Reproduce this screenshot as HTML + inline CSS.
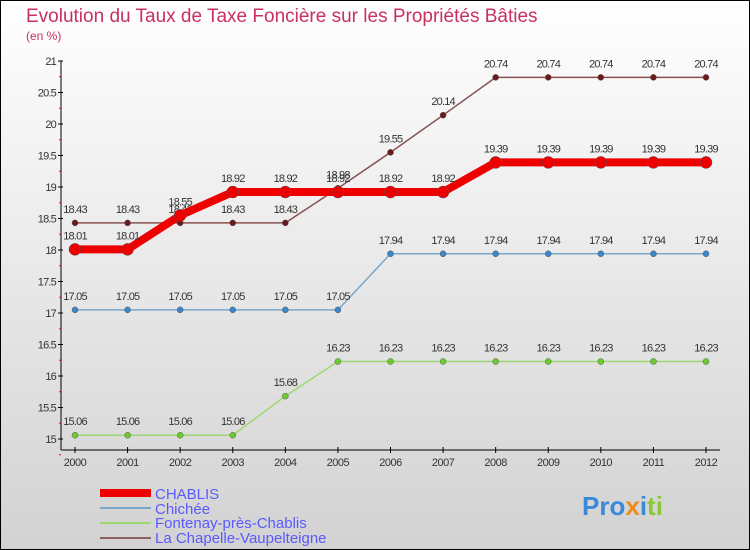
<!DOCTYPE html>
<html><head><meta charset="utf-8"><style>
body{margin:0;width:750px;height:550px;overflow:hidden;font-family:"Liberation Sans",sans-serif}
svg{display:block}
</style></head><body>
<svg id="c" width="750" height="550" xmlns="http://www.w3.org/2000/svg">
<defs><linearGradient id="bg" x1="0" y1="0" x2="0" y2="1"><stop offset="0" stop-color="#ffffff"/><stop offset="1" stop-color="#d2d2d2"/></linearGradient></defs>
<rect x="0.5" y="0.5" width="749" height="549" fill="url(#bg)" stroke="#000"/>
<text x="26" y="22" font-size="19" fill="#c8305e">Evolution du Taux de Taxe Foncière sur les Propriétés Bâties</text>
<text x="26" y="40" font-size="12" fill="#c8305e">(en %)</text>
<g id="axes"></g><g id="series"></g>
<g>
<rect x="100" y="489" width="51" height="8" fill="#e00"/>
<text x="155" y="499" font-size="15" fill="#5a5aff">CHABLIS</text>
<line x1="100" y1="508" x2="151" y2="508" stroke="#7aa7cc" stroke-width="2"/>
<text x="155" y="514" font-size="15" fill="#5a5aff">Chichée</text>
<line x1="100" y1="523" x2="151" y2="523" stroke="#9ed86e" stroke-width="2"/>
<text x="155" y="528" font-size="15" fill="#5a5aff">Fontenay-près-Chablis</text>
<line x1="100" y1="538" x2="151" y2="538" stroke="#8a6060" stroke-width="2"/>
<text x="155" y="543" font-size="15" fill="#5a5aff">La Chapelle-Vaupelteigne</text>
</g>
<text x="582" y="515" font-size="26" font-weight="bold"><tspan fill="#3a8ad8">Pro</tspan><tspan fill="#f08a1a">x</tspan><tspan fill="#3a8ad8">i</tspan><tspan fill="#8ac83a">ti</tspan></text>
</svg>
<script>
const years=[2000,2001,2002,2003,2004,2005,2006,2007,2008,2009,2010,2011,2012];
const yTicks=[15,15.5,16,16.5,17,17.5,18,18.5,19,19.5,20,20.5,21];
const chablis=[18.01,18.01,18.55,18.92,18.92,18.92,18.92,18.92,19.39,19.39,19.39,19.39,19.39];
const chichee=[17.05,17.05,17.05,17.05,17.05,17.05,17.94,17.94,17.94,17.94,17.94,17.94,17.94];
const fontenay=[15.06,15.06,15.06,15.06,15.68,16.23,16.23,16.23,16.23,16.23,16.23,16.23,16.23];
const chapelle=[18.43,18.43,18.43,18.43,18.43,18.98,19.55,20.14,20.74,20.74,20.74,20.74,20.74];
const NS="http://www.w3.org/2000/svg";
const x=i=>75+i*(706-75)/12;
const y=v=>439-(v-15)*63;
function mk(t,a,p){const e=document.createElementNS(NS,t);for(const k in a)e.setAttribute(k,a[k]);p.appendChild(e);return e;}
const ax=document.getElementById('axes');
let yl=mk('line',{x1:61,y1:61,x2:61,y2:450,stroke:'#000'},ax);


let xl=mk('line',{x1:61,y1:450,x2:720,y2:450,stroke:'#000'},ax);


yTicks.forEach(v=>{
  mk('line',{x1:58,y1:y(v),x2:63,y2:y(v),stroke:'#000'},ax);
  mk('line',{x1:59,y1:y(v)+15.75,x2:61,y2:y(v)+15.75,stroke:'#f00'},ax);
  const t=mk('text',{x:56,y:y(v)+4,'font-size':11,'text-anchor':'end',fill:'#333','letter-spacing':'-0.8'},ax);
  t.textContent=v;
  
  
});
years.forEach((yr,i)=>{
  mk('line',{x1:x(i),y1:447,x2:x(i),y2:453,stroke:'#000'},ax);
  const t=mk('text',{x:x(i),y:466,'font-size':11,'text-anchor':'middle',fill:'#333','letter-spacing':'-0.5'},ax);
  t.textContent=yr;
  
  
});
const sg=document.getElementById('series');
function series(data,name,color,w,r,dot){
  const g=mk('g',{},sg);
  
  
  const pl=mk('polyline',{points:data.map((v,i)=>x(i)+','+y(v)).join(' '),fill:'none',stroke:color,'stroke-width':w},g);
  
  
  data.forEach((v,i)=>{
    const c=mk('circle',{cx:x(i),cy:y(v),r:r,fill:dot,stroke:'#555','stroke-width':0.5},g);
    
    
    const t=mk('text',{x:x(i),y:y(v)-10,'font-size':11,'text-anchor':'middle',fill:'#333','letter-spacing':'-0.8'},g);
    t.textContent=v;
    
    
  });
}
series(chapelle,'la-chapelle','#8a5050',1.5,3,'#6a1a1a');
series(chichee,'chichee','#7aa7cc',1.5,3,'#3a86c8');
series(fontenay,'fontenay','#9ed86e',1.5,3,'#6ccc2e');
series(chablis,'chablis','#ee0000',8,6,'#ee0000');
</script>
</body></html>
